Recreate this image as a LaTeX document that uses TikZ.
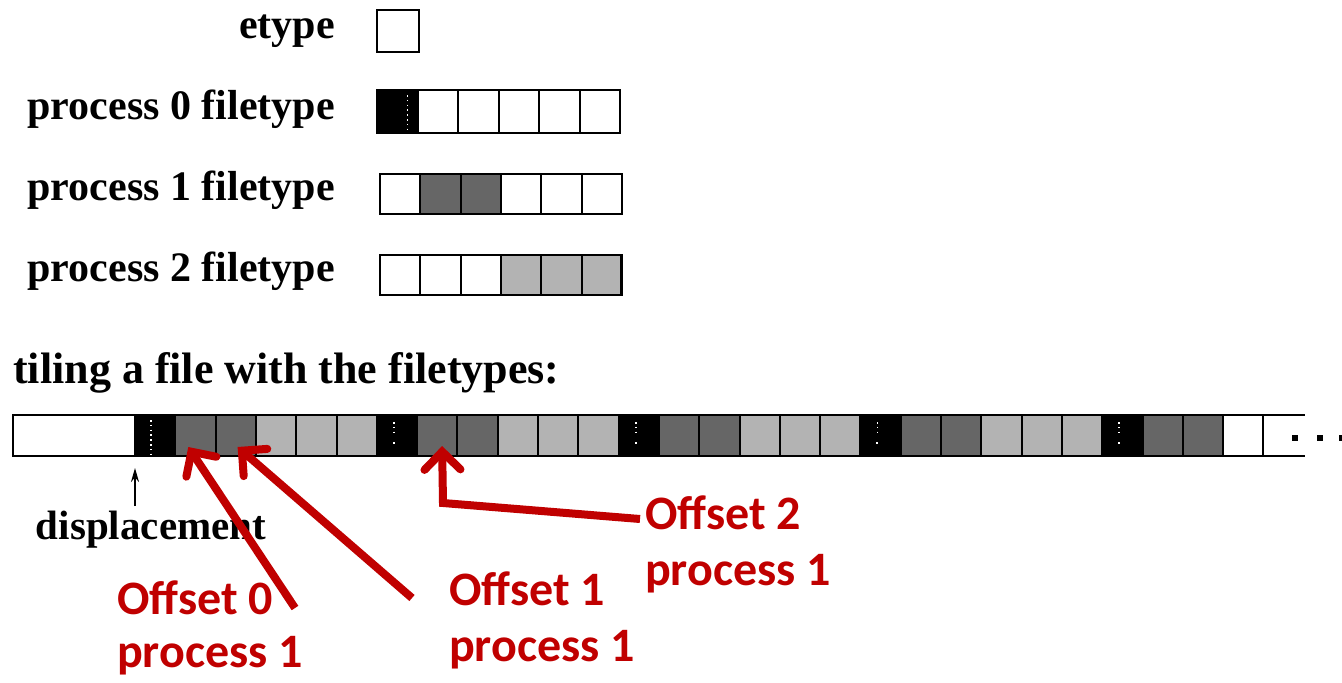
\documentclass[tikz,border=0pt]{standalone}
\usepackage{fontspec}
\setmainfont{Liberation Serif}
\newfontfamily\labelfont{Carlito}
\usetikzlibrary{arrows.meta,calc}
\definecolor{darkcell}{HTML}{666666}
\definecolor{lightcell}{HTML}{B3B3B3}
\definecolor{offred}{HTML}{C00000}
\begin{document}
\begin{tikzpicture}[x=1pt,y=-1pt,
  cellbox/.style={draw=black,line width=2pt,minimum width=40.3pt,minimum height=40pt,inner sep=0pt,outer sep=0pt,anchor=north west},
  wcell/.style={cellbox,fill=white},
  bcell/.style={cellbox,fill=black},
  dcell/.style={cellbox,fill=darkcell},
  lcell/.style={cellbox,fill=lightcell},
  rowlabel/.style={font=\bfseries\fontsize{42}{44}\selectfont,inner sep=0pt,anchor=east},
  dots/.style={draw=white,line width=1.8pt,dash pattern=on 1.6pt off 3.2pt},
  offlabel/.style={font=\labelfont\bfseries\fontsize{48}{56}\selectfont,text=offred,align=left,inner sep=0pt,anchor=north west},
  offarrow/.style={draw=offred,line width=8pt,-{Straight Barb[length=18pt,width=36pt,line cap=round]}},
]
\useasboundingbox (0,0) rectangle (1342,683);

% ---- etype and the three filetypes ----
\node[rowlabel] (letype) at (335,31) {etype};
\node[wcell,minimum width=42pt,minimum height=42pt] (e) at (377,10) {};

\node[rowlabel] (lp0) at (335,109) {process 0 filetype};
\foreach \i/\s in {1/bcell,2/wcell,3/wcell,4/wcell,5/wcell,6/wcell}
  \node[\s,minimum height=43pt,minimum width=40.5pt] (p0c\i) at ({377+(\i-1)*40.5},90) {};
\draw[dots] ($(p0c1.north east)+(-10,5)$) -- ($(p0c1.south east)+(-10,-2)$);

\node[rowlabel] (lp1) at (335,190) {process 1 filetype};
\foreach \i/\s in {1/wcell,2/dcell,3/dcell,4/wcell,5/wcell,6/wcell}
  \node[\s] (p1c\i) at ({380+(\i-1)*40.3},174) {};

\node[rowlabel] (lp2) at (335,271) {process 2 filetype};
\foreach \i/\s in {1/wcell,2/wcell,3/wcell,4/lcell,5/lcell,6/lcell}
  \node[\s] (p2c\i) at ({380+(\i-1)*40.3},255) {};
\draw[line width=3pt] (p2c6.north east) -- (p2c6.south east);

% ---- tiled file ----
\node[font=\bfseries\fontsize{44}{46}\selectfont,inner sep=0pt,anchor=west] (ltile) at (13,373) {tiling a file with the filetypes:};
\node[wcell,minimum width=122pt,minimum height=41pt] (disp) at (13,415) {};
\foreach \i/\s in {1/bcell,2/dcell,3/dcell,4/lcell,5/lcell,6/lcell,
                   7/bcell,8/dcell,9/dcell,10/lcell,11/lcell,12/lcell,
                   13/bcell,14/dcell,15/dcell,16/lcell,17/lcell,18/lcell,
                   19/bcell,20/dcell,21/dcell,22/lcell,23/lcell,24/lcell,
                   25/bcell,26/dcell,27/dcell,28/wcell}
  \node[\s,minimum height=41pt] (t\i) at ({135+(\i-1)*40.3},415) {};
% open end of the file
\coordinate (tend) at (1305,415);
\draw[line width=2pt] (t28.north east) -- (tend) (t28.south east) -- (tend |- t28.south);
\foreach \x in {1295,1320,1342}
  \fill (\x-3,435) rectangle (\x+3,441);

% dotted marks inside the black cells
\draw[dots] ($(t1.north west)+(16,5)$) -- ($(t1.south west)+(16,-2)$);
\foreach \i in {7,13,19,25}{
  \draw[dots] ($(t\i.north west)+(17,7)$) -- ($(t\i.north west)+(17,20)$);
  \fill[white] ($(t\i.north west)+(16,27)$) rectangle +(2,2);
}

% displacement marker
\node[font=\bfseries\fontsize{41}{43}\selectfont,inner sep=0pt] (ldisp) at (151,530) {displacement};
\coordinate (dtail) at (135,506);
\draw[line width=2pt,-{Stealth[length=14pt,width=8pt]}] (dtail) -- (disp.south east |- 0,468);

% ---- offset callouts ----
\node[offlabel,font=\labelfont\bfseries\fontsize{48}{53}\selectfont] (off0) at (117,581) {Offset 0\\process 1};
\node[offlabel] (off1) at (449,572) {Offset 1\\process 1};
\node[offlabel] (off2) at (645,496) {Offset 2\\process 1};

\coordinate (a0) at (295,608);
\coordinate (a1) at (412,598);
\coordinate (a2) at (640,519);
\coordinate (a2bend) at (443,503);
\draw[offarrow] (a0) -- ($(t2.south west)+(13,-9)$);
\draw[offarrow] (a1) -- ($(t3.south west)+(22,-9)$);
\draw[offarrow] (a2) -- (a2bend) -- ($(t8.south west)+(25,-10)$);
\end{tikzpicture}
\end{document}
